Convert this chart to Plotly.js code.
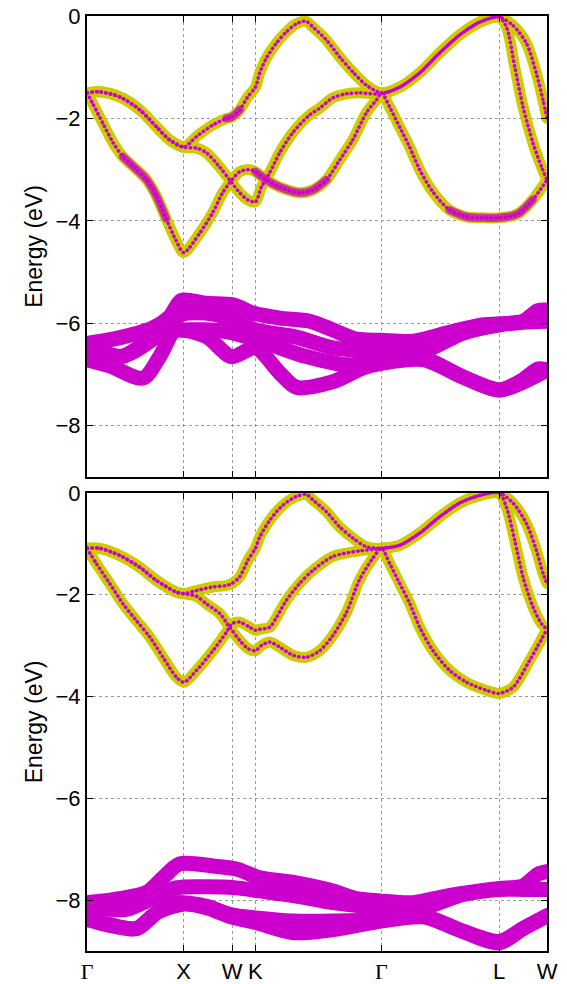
<!DOCTYPE html>
<html>
<head>
<meta charset="utf-8">
<script src="https://cdn.plot.ly/plotly-3.0.1.min.js"></script>
<style>
html,body{margin:0;padding:0;background:#fff;}
#chart{width:567px;height:984px;}
.js-line{stroke-linecap:round;stroke-linejoin:round;}
</style>
</head>
<body>
<div id="chart"></div>
<script>
// ---- k-path ticks ----
const kTicks = [0, 0.967, 1.45, 1.684, 2.944, 4.12, 4.60];
const kLabels = ['Γ', 'X', 'W', 'K', 'Γ', 'L', 'W'];
const eTicks = [0, -2, -4, -6, -8];

// ---- top panel: upper (p-like) bands ----
const topP1K = [0,0.127,0.327,0.527,0.697,0.827,0.967,1.097,1.257,1.397,1.45,1.527,1.607,1.684,1.727,1.794,1.894,1.994,2.087,2.187,2.257,2.394,2.527,2.657,2.794,2.944,3.127,3.327,3.527,3.727,3.927,4.12,4.257,4.394,4.494,4.56,4.60];
const topP1E = [-1.50,-1.48,-1.58,-1.83,-2.17,-2.42,-2.56,-2.35,-2.13,-2.00,-1.97,-1.83,-1.58,-1.39,-1.11,-0.82,-0.53,-0.31,-0.16,-0.10,-0.21,-0.47,-0.80,-1.09,-1.35,-1.50,-1.39,-1.11,-0.72,-0.37,-0.12,-0.02,-0.18,-0.53,-1.12,-1.64,-2.00];
const topP2K = [0,0.06,0.16,0.26,0.36,0.48,0.59,0.69,0.79,0.89,0.967,1.127,1.257,1.357,1.45,1.527,1.627,1.684,1.794,1.927,2.127,2.257,2.394,2.527,2.657,2.794,2.894,2.944,3.027,3.127,3.227,3.327,3.457,3.627,3.794,3.957,4.12,4.257,4.327,4.457,4.60];
const topP2E = [-1.50,-1.72,-2.10,-2.47,-2.75,-2.97,-3.18,-3.50,-3.95,-4.38,-4.62,-4.24,-3.84,-3.45,-3.20,-3.04,-3.00,-3.04,-3.20,-3.34,-3.45,-3.40,-3.20,-2.81,-2.42,-1.89,-1.64,-1.50,-1.78,-2.17,-2.56,-3.00,-3.43,-3.79,-3.92,-3.94,-3.94,-3.90,-3.84,-3.59,-3.20];
const topP3K = [0,0.127,0.327,0.527,0.697,0.827,0.967,1.097,1.194,1.327,1.427,1.527,1.607,1.684,1.744,1.827,1.927,2.057,2.227,2.327,2.457,2.594,2.727,2.944,3.127,3.327,3.527,3.727,3.927,4.12,4.194,4.277,4.36,4.46,4.544,4.60];
const topP3E = [-1.50,-1.48,-1.58,-1.83,-2.17,-2.42,-2.56,-2.58,-2.67,-2.95,-3.20,-3.45,-3.59,-3.63,-3.34,-3.06,-2.67,-2.28,-1.93,-1.80,-1.60,-1.52,-1.50,-1.52,-1.39,-1.11,-0.72,-0.37,-0.12,-0.02,-0.21,-0.99,-1.77,-2.48,-2.94,-3.20];

// ---- top panel: lower (d-like) bands ----
const topD1K = [0,0.26,0.66,0.827,0.944,1.194,1.46,1.66,1.927,2.227,2.46,2.694,2.944,3.26,3.594,3.927,4.127,4.36,4.51,4.60];
const topD1E = [-6.39,-6.31,-6.09,-5.87,-5.55,-5.61,-5.64,-5.80,-5.90,-5.96,-6.13,-6.31,-6.33,-6.35,-6.19,-6.04,-6.01,-5.96,-5.75,-5.74];
const topD2K = [0,0.36,0.694,0.944,1.26,1.494,1.684,2.094,2.46,2.944,3.36,3.76,4.127,4.36,4.60];
const topD2E = [-6.45,-6.64,-6.26,-5.83,-5.82,-5.96,-6.13,-6.27,-6.48,-6.55,-6.55,-6.19,-6.03,-5.98,-5.96];
const topD3K = [0,0.227,0.56,0.727,0.877,0.96,1.26,1.46,1.794,2.194,2.594,2.944,3.36,3.76,4.127,4.36,4.51,4.60];
const topD3E = [-6.71,-6.83,-7.07,-6.65,-6.13,-6.13,-6.13,-6.19,-6.39,-6.65,-6.81,-6.75,-6.68,-7.05,-7.30,-7.10,-6.89,-6.91];
const topD4K = [0,0.36,0.694,0.927,1.194,1.444,1.684,1.927,2.094,2.46,2.76,2.944,3.36,3.76,4.127,4.60];
const topD4E = [-6.68,-6.64,-6.26,-6.13,-6.26,-6.65,-6.48,-6.97,-7.25,-7.14,-6.87,-6.78,-6.71,-7.05,-7.30,-6.91];

// ---- bottom panel: upper bands ----
const botP1K = [0,0.127,0.327,0.527,0.694,0.894,0.967,1.094,1.257,1.394,1.45,1.527,1.61,1.684,1.727,1.827,1.96,2.094,2.194,2.26,2.394,2.527,2.66,2.794,2.944,3.127,3.327,3.527,3.727,3.927,4.12,4.26,4.394,4.494,4.56,4.60];
const botP1E = [-1.09,-1.09,-1.23,-1.46,-1.72,-1.95,-1.98,-1.92,-1.85,-1.82,-1.78,-1.65,-1.32,-1.09,-0.87,-0.54,-0.24,-0.07,-0.03,-0.14,-0.37,-0.67,-0.89,-1.06,-1.09,-1.03,-0.79,-0.47,-0.20,-0.05,0,-0.20,-0.60,-1.13,-1.58,-1.78];
const botP2K = [0,0.094,0.227,0.36,0.494,0.627,0.76,0.894,0.97,1.094,1.26,1.394,1.45,1.527,1.627,1.684,1.727,1.827,1.894,1.994,2.127,2.26,2.46,2.727,2.944,3.127,3.327,3.527,3.727,3.927,4.12,4.194,4.277,4.36,4.46,4.544,4.594];
const botP2E = [-1.09,-1.39,-1.78,-2.18,-2.51,-2.83,-3.23,-3.62,-3.72,-3.49,-3.10,-2.74,-2.57,-2.54,-2.64,-2.70,-2.68,-2.64,-2.45,-2.11,-1.78,-1.52,-1.25,-1.14,-1.09,-1.03,-0.79,-0.47,-0.20,-0.05,0,-0.28,-0.93,-1.65,-2.24,-2.57,-2.67];
const botP3K = [0,0.127,0.327,0.527,0.694,0.894,0.967,1.094,1.194,1.327,1.427,1.527,1.61,1.684,1.744,1.827,1.927,2.06,2.194,2.327,2.46,2.594,2.727,2.86,2.944,3.027,3.127,3.227,3.327,3.46,3.627,3.794,3.994,4.12,4.26,4.427,4.594];
const botP3E = [-1.09,-1.09,-1.23,-1.46,-1.72,-1.95,-1.98,-2.03,-2.18,-2.37,-2.64,-2.90,-3.06,-3.10,-3.00,-2.93,-3.03,-3.19,-3.23,-3.10,-2.80,-2.35,-1.70,-1.28,-1.09,-1.39,-1.78,-2.17,-2.64,-3.10,-3.49,-3.72,-3.88,-3.94,-3.82,-3.29,-2.70];

// ---- bottom panel: lower bands ----
const botD1K = [0,0.327,0.594,0.76,0.927,1.26,1.494,1.727,2.094,2.46,2.694,2.944,3.26,3.594,3.927,4.127,4.36,4.51,4.60];
const botD1E = [-8.05,-7.97,-7.85,-7.56,-7.29,-7.33,-7.39,-7.56,-7.66,-7.82,-7.97,-8.02,-8.05,-7.92,-7.82,-7.77,-7.72,-7.49,-7.44];
const botD2K = [0,0.394,0.694,0.894,1.194,1.494,1.727,2.094,2.46,2.944,3.36,3.76,4.127,4.36,4.60];
const botD2E = [-8.12,-8.18,-7.92,-7.76,-7.74,-7.76,-7.82,-7.92,-8.05,-8.15,-8.15,-7.89,-7.79,-7.79,-7.79];
const botD3K = [0,0.194,0.494,0.694,0.827,0.96,1.194,1.444,1.684,2.06,2.46,2.944,3.36,3.76,4.127,4.36,4.60];
const botD3E = [-8.35,-8.46,-8.56,-8.25,-8.07,-8.05,-8.12,-8.29,-8.35,-8.41,-8.41,-8.38,-8.31,-8.61,-8.81,-8.56,-8.31];
const botD4K = [0,0.194,0.494,0.694,0.96,1.194,1.444,1.684,2.06,2.46,2.944,3.36,3.76,4.127,4.36,4.60];
const botD4E = [-8.38,-8.48,-8.56,-8.25,-8.08,-8.15,-8.33,-8.44,-8.64,-8.58,-8.41,-8.33,-8.62,-8.84,-8.56,-8.31];

// ---- styling ----
const YEL = 'rgb(204,204,0)';
const MAG = 'rgb(204,0,204)';
const MAGSOFT = 'rgba(204,0,204,0.75)';

function line(k, e, xa, ya, color, width, dash) {
  return {
    type: 'scatter', mode: 'lines', x: k, y: e, xaxis: xa, yaxis: ya,
    line: {color: color, width: width, shape: 'spline', smoothing: 0.8, dash: dash || 'solid'},
    hoverinfo: 'skip', showlegend: false
  };
}
function seg(k, e, i0, i1, xa, ya) {
  return line(k.slice(i0, i1 + 1), e.slice(i0, i1 + 1), xa, ya, MAGSOFT, 8);
}

const traces = [];
[[topD1K, topD1E], [topD2K, topD2E], [topD3K, topD3E], [topD4K, topD4E]].forEach(b => traces.push(line(b[0], b[1], 'x', 'y', MAG, 15)));
[[botD1K, botD1E], [botD2K, botD2E], [botD3K, botD3E], [botD4K, botD4E]].forEach(b => traces.push(line(b[0], b[1], 'x2', 'y2', MAG, 15)));
const topP = [[topP1K, topP1E], [topP2K, topP2E], [topP3K, topP3E]];
const botP = [[botP1K, botP1E], [botP2K, botP2E], [botP3K, botP3E]];
topP.forEach(b => traces.push(line(b[0], b[1], 'x', 'y', YEL, 11)));
botP.forEach(b => traces.push(line(b[0], b[1], 'x2', 'y2', YEL, 11)));
// magenta-rich stretches of the fat bands (top panel)
traces.push(seg(topP2K, topP2E, 4, 8, 'x', 'y'));
traces.push(seg(topP2K, topP2E, 17, 22, 'x', 'y'));
traces.push(seg(topP2K, topP2E, 33, 39, 'x', 'y'));
traces.push(seg(topP1K, topP1E, 9, 11, 'x', 'y'));
topP.forEach(b => traces.push(line(b[0], b[1], 'x', 'y', MAG, 3.5, '0.5px,4.2px')));
botP.forEach(b => traces.push(line(b[0], b[1], 'x2', 'y2', MAG, 3.5, '0.5px,4.2px')));

const FONT = 'Liberation Sans, Arial, Helvetica, sans-serif';
function xAxis(anchor, labels) {
  return {
    domain: [0, 1], anchor: anchor, range: [0, 4.60],
    tickmode: 'array', tickvals: kTicks,
    ticktext: labels ? kLabels.map(s => s === 'Γ' ? '<span style="font-family:Liberation Serif, Times New Roman, serif">Γ</span>' : s) : kLabels,
    showticklabels: !!labels,
    ticks: 'inside', ticklen: 6, tickwidth: 1, tickcolor: '#000',
    showline: true, linecolor: '#000', linewidth: 2, mirror: 'ticks',
    showgrid: true, gridcolor: '#9a9a9a', griddash: 'dot', gridwidth: 1,
    zeroline: false, tickfont: {family: FONT, size: 22, color: '#000'}
  };
}
function yAxis(anchor, domain) {
  return {
    domain: domain, anchor: anchor, range: [-9, 0],
    tickmode: 'array', tickvals: eTicks,
    ticks: 'inside', ticklen: 6, tickwidth: 1, tickcolor: '#000',
    showline: true, linecolor: '#000', linewidth: 2, mirror: 'ticks',
    showgrid: true, gridcolor: '#9a9a9a', griddash: 'dot', gridwidth: 1,
    zeroline: false, tickfont: {family: FONT, size: 22, color: '#000'},
    title: {text: 'Energy (eV)', font: {family: FONT, size: 23, color: '#000'}, standoff: 6}
  };
}

const layout = {
  width: 567, height: 984,
  margin: {l: 87, r: 20, t: 16, b: 33},
  paper_bgcolor: '#fff', plot_bgcolor: '#fff',
  showlegend: false,
  xaxis: xAxis('y', false),
  yaxis: yAxis('x', [0.507, 1]),
  xaxis2: xAxis('y2', true),
  yaxis2: yAxis('x2', [0, 0.49])
};

Plotly.newPlot('chart', traces, layout, {staticPlot: true, displayModeBar: false});
</script>
</body>
</html>
